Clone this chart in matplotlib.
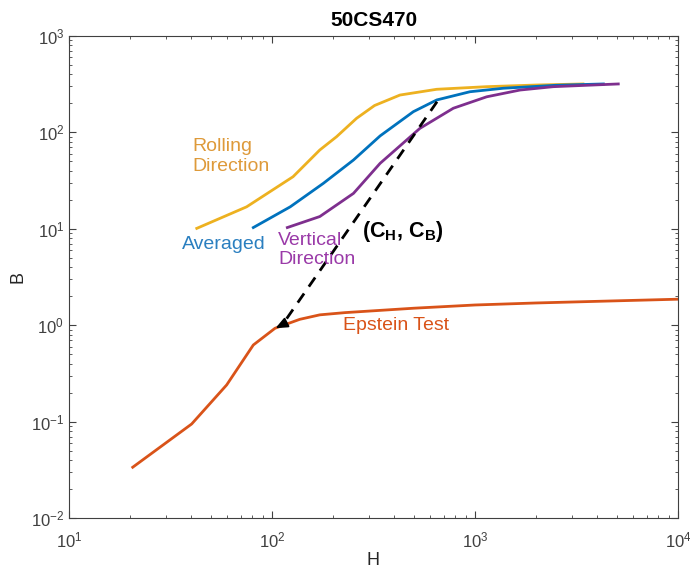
import numpy as np
import matplotlib
matplotlib.use('Agg')
import matplotlib.pyplot as plt

plt.rcParams['font.family'] = ['Liberation Sans', 'DejaVu Sans']
plt.rcParams['mathtext.fontset'] = 'custom'
plt.rcParams['mathtext.rm'] = 'Liberation Sans'
plt.rcParams['mathtext.bf'] = 'Liberation Sans:bold'
plt.rcParams['mathtext.it'] = 'Liberation Sans:italic'
plt.rcParams['axes.unicode_minus'] = False

# B-H curves
rolling_H = [42.6, 75, 127, 172, 208, 261, 320, 427, 648, 1142, 2000, 3405]
rolling_B = [10.1, 16.9, 34.7, 65.7, 90.2, 140, 190, 244, 280, 298, 310, 318]

averaged_H = [80.9, 123, 179, 252, 341, 497, 648, 944, 1378, 2500, 4290]
averaged_B = [10.3, 16.9, 29.6, 51.7, 92, 164, 217, 264, 287, 308, 318]

vertical_H = [119, 172, 252, 341, 535, 782, 1142, 1667, 2432, 5080]
vertical_B = [10.3, 13.4, 23.3, 47.8, 110, 178, 234, 275, 298, 318]

epstein_H = [20.6, 40.2, 59.8, 80.9, 103.5, 137, 172, 229, 500, 1000, 2000, 5000, 10000]
epstein_B = [0.0336, 0.0944, 0.240, 0.623, 0.929, 1.15, 1.28, 1.35, 1.50, 1.62, 1.70, 1.79, 1.86]

arrow_from = (650, 208)
arrow_to = (104, 0.93)

c_roll = '#EDB120'
c_avg = '#0072BD'
c_vert = '#7E2F8E'
c_eps = '#D95319'

fig = plt.figure(figsize=[6.9, 5.74], dpi=100)
ax = fig.add_axes([0.1, 0.0976, 0.8826, 0.8397])

ax.plot(rolling_H, rolling_B, color=c_roll, lw=2.0)
ax.plot(averaged_H, averaged_B, color=c_avg, lw=2.0)
ax.plot(vertical_H, vertical_B, color=c_vert, lw=2.0)
ax.plot(epstein_H, epstein_B, color=c_eps, lw=2.0)

# dashed arrow (C_H, C_B)
ax.plot([arrow_from[0], arrow_to[0] * 1.08], [arrow_from[1], arrow_to[1] * 1.08],
        color='black', lw=2.0, linestyle=(0, (4, 3)))
ax.annotate('', xy=arrow_to, xytext=(arrow_to[0] * 1.12, arrow_to[1] * 1.13),
            arrowprops=dict(arrowstyle='-|>,head_length=0.7,head_width=0.3',
                            color='black', lw=1.5, shrinkA=0, shrinkB=0))

ax.text(40.4, 56, 'Rolling\nDirection', color='#DE9A3A', fontsize=14, ha='left', va='center')
ax.text(36, 6.8, 'Averaged', color='#2A7FC0', fontsize=14, ha='left', va='center')
ax.text(107, 6.0, 'Vertical\nDirection', color='#9A3AA8', fontsize=14, ha='left', va='center')
ax.text(224, 1.0, 'Epstein Test', color=c_eps, fontsize=14, ha='left', va='center')
ax.text(278, 9.3, r'(C$_\mathbf{H}$, C$_\mathbf{B}$)', color='black', fontsize=15.5,
        fontweight='bold', ha='left', va='center')

ax.set_xscale('log')
ax.set_yscale('log')
ax.set_xlim([10, 1e4])
ax.set_ylim([1e-2, 1e3])

ax.tick_params(which='both', direction='in', top=True, right=True, colors='#404040',
               labelsize=12)
ax.tick_params(axis='x', which='major', pad=9)
ax.tick_params(which='major', length=5)
ax.tick_params(which='minor', length=2.5)
for s in ax.spines.values():
    s.set_color('#404040')

ax.set_xlabel('H', fontsize=13, color='#262626', labelpad=1)
ax.set_ylabel('B', fontsize=13, color='#262626', labelpad=3)
ax.set_title('50CS470', fontsize=15, fontweight='bold', pad=7)

plt.savefig('out.png', dpi=100)
